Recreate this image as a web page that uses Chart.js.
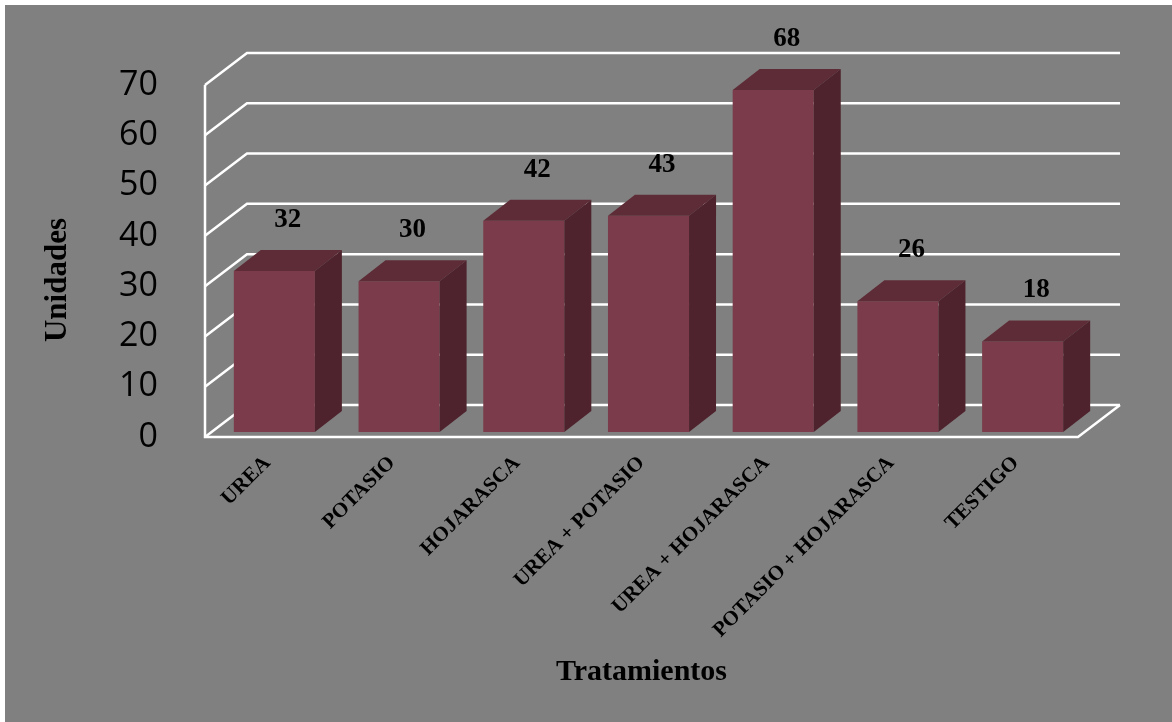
<!DOCTYPE html>
<html>
<head>
<meta charset="utf-8">
<script src="https://cdn.jsdelivr.net/npm/chart.js@4.4.0/dist/chart.umd.min.js"></script>
<style>
  html, body { margin: 0; padding: 0; background: #fff; }
  #wrap { width: 1172px; height: 722px; }
</style>
</head>
<body>
<div id="wrap"><canvas id="myBarChart3d"></canvas></div>
<script>
const tratamientos = ['UREA', 'POTASIO', 'HOJARASCA', 'UREA + POTASIO', 'UREA + HOJARASCA', 'POTASIO + HOJARASCA', 'TESTIGO'];
const unidades = [32, 30, 42, 43, 68, 26, 18];
const yTicks = [0, 10, 20, 30, 40, 50, 60, 70];

// 3d look: floor depth, bar depth, bar offset inside the floor
const floorDX = 42, floorDY = 32;
const barDX = 27, barDY = 21;
const barOffX = 7, barOffY = 5;

const frontColor = '#7b3b4a';
const topColor = '#5e2c37';
const sideColor = '#4e232d';

const walls3d = {
  id: 'walls3d',
  beforeDraw(chart) {
    const ctx = chart.ctx;
    ctx.save();
    ctx.fillStyle = '#808080';
    ctx.fillRect(5, 5, chart.width - 5, chart.height - 5);
    ctx.restore();
  },
  beforeDatasetsDraw(chart) {
    const ctx = chart.ctx;
    const area = chart.chartArea;
    const y = chart.scales.y;
    ctx.save();
    ctx.strokeStyle = '#ffffff';
    ctx.lineWidth = 2.5;
    ctx.lineJoin = 'miter';
    yTicks.forEach(v => {
      const py = y.getPixelForValue(v);
      ctx.beginPath();
      ctx.moveTo(area.left, py);
      ctx.lineTo(area.left + floorDX, py - floorDY);
      ctx.lineTo(area.right + floorDX, py - floorDY);
      ctx.stroke();
    });
    // front edges of the floor and left wall
    ctx.beginPath();
    ctx.moveTo(area.left, y.getPixelForValue(yTicks[yTicks.length - 1]));
    ctx.lineTo(area.left, area.bottom);
    ctx.lineTo(area.right, area.bottom);
    ctx.lineTo(area.right + floorDX, area.bottom - floorDY);
    ctx.stroke();
    ctx.restore();

    // bars sit a little inside the floor
    ctx.save();
    ctx.translate(barOffX, -barOffY);
  },
  afterDatasetsDraw(chart) {
    const ctx = chart.ctx;
    const meta = chart.getDatasetMeta(0);
    meta.data.forEach(bar => {
      const l = bar.x - bar.width / 2;
      const r = bar.x + bar.width / 2;
      const t = bar.y;
      const b = bar.base;
      ctx.fillStyle = topColor;
      ctx.beginPath();
      ctx.moveTo(l, t);
      ctx.lineTo(l + barDX, t - barDY);
      ctx.lineTo(r + barDX, t - barDY);
      ctx.lineTo(r, t);
      ctx.closePath();
      ctx.fill();
      ctx.fillStyle = sideColor;
      ctx.beginPath();
      ctx.moveTo(r, t);
      ctx.lineTo(r + barDX, t - barDY);
      ctx.lineTo(r + barDX, b - barDY);
      ctx.lineTo(r, b);
      ctx.closePath();
      ctx.fill();
    });
    // value labels above each bar
    ctx.fillStyle = '#000';
    ctx.font = 'bold 27px "Liberation Serif", "Times New Roman", serif';
    ctx.textAlign = 'center';
    ctx.textBaseline = 'middle';
    meta.data.forEach((bar, i) => {
      ctx.fillText(unidades[i], bar.x + barDX / 2, bar.y - barDY - 30);
    });
    ctx.restore();
  },
  afterDraw(chart) {
    const ctx = chart.ctx;
    ctx.save();
    ctx.fillStyle = '#000';
    ctx.font = 'bold 31px "Liberation Serif", "Times New Roman", serif';
    ctx.textAlign = 'center';
    ctx.textBaseline = 'middle';
    ctx.translate(58, 280);
    ctx.rotate(-Math.PI / 2);
    ctx.fillText('Unidades', 0, 0);
    ctx.restore();
  }
};

var chart3d = new Chart(document.getElementById('myBarChart3d'), {
  type: 'bar',
  data: {
    labels: tratamientos,
    datasets: [{
      label: 'Unidades',
      data: unidades,
      backgroundColor: frontColor,
      borderWidth: 0,
      categoryPercentage: 1.0,
      barPercentage: 0.65
    }]
  },
  options: {
    responsive: true,
    maintainAspectRatio: false,
    animation: false,
    devicePixelRatio: 1,
    layout: { padding: { top: 85, right: 94, left: 0, bottom: 0 } },
    plugins: {
      legend: { display: false },
      tooltip: { enabled: false }
    },
    scales: {
      x: {
        grid: { display: false, drawTicks: false },
        border: { display: false },
        ticks: {
          autoSkip: false,
          minRotation: 45,
          maxRotation: 45,
          padding: 14,
          color: '#000',
          font: { family: '"Liberation Serif", "Times New Roman", serif', size: 21, weight: 'bold' }
        },
        title: {
          display: true,
          text: 'Tratamientos',
          color: '#000',
          padding: { top: 4, bottom: 32 },
          font: { family: '"Liberation Serif", "Times New Roman", serif', size: 30, weight: 'bold' }
        },
        afterFit(scale) { scale.height = 285; }
      },
      y: {
        min: 0,
        max: 70,
        grid: { display: false, drawTicks: false },
        border: { display: false },
        afterBuildTicks(scale) { scale.ticks = yTicks.map(v => ({ value: v })); },
        ticks: {
          padding: 47,
          color: '#000',
          font: { family: '"Open Sans", sans-serif', size: 34 }
        },
        afterFit(scale) { scale.width = 205; }
      }
    }
  },
  plugins: [walls3d]
});
</script>
</body>
</html>
